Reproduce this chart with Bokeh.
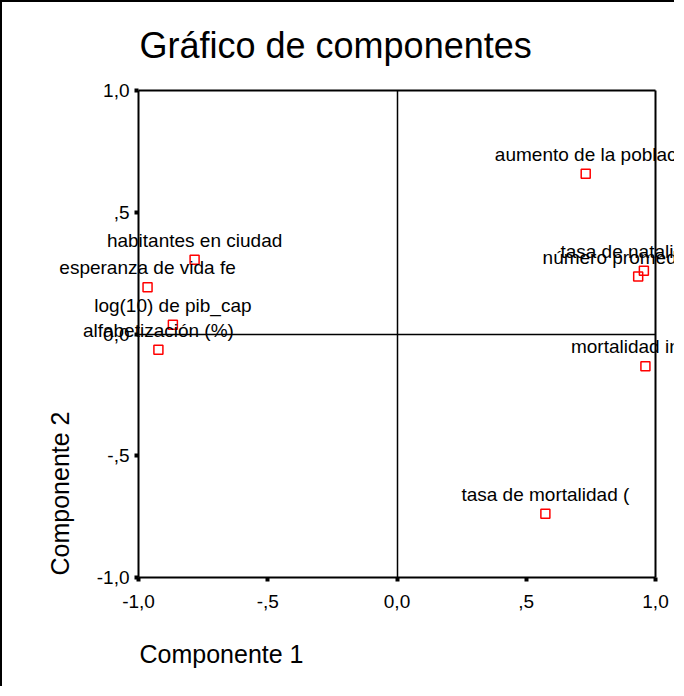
import math
from bokeh.plotting import figure
from bokeh.models import (Range1d, FixedTicker, ColumnDataSource, LabelSet, Label, Title,
                          LinearAxis)
from bokeh.core.properties import value
from bokeh.embed import file_html
from bokeh.resources import INLINE

# ---- data ----
names = ["aumento de la poblac", "tasa de natalidad (p", "número promedio de h",
         "mortalidad infantil", "tasa de mortalidad (", "habitantes en ciudad",
         "esperanza de vida fe", "log(10) de pib_cap", "alfabetización (%)"]
comp1 = [0.730, 0.955, 0.933, 0.961, 0.574, -0.783, -0.965, -0.867, -0.923]
comp2 = [0.658, 0.260, 0.236, -0.132, -0.738, 0.305, 0.192, 0.038, -0.065]
tick_values = [-1.0, -0.5, 0.0, 0.5, 1.0]
tick_labels = ["-1,0", "-,5", "0,0", ",5", "1,0"]

# ---- layout (pixels) ----
FONT = "Liberation Sans"
W, H = 674, 686
BOX_LEFT, BOX_RIGHT = 136, 653      # canvas px of x=-1 and x=1
BOX_TOP, BOX_BOTTOM = 88, 575       # canvas px of y=1 and y=-1
FRAME_TOP, FRAME_BOTTOM = 70, 622   # drawing area (covers tick labels)
upp = 2.0 / (BOX_RIGHT - BOX_LEFT)
vpp = 2.0 / (BOX_BOTTOM - BOX_TOP)
x_start = -1 - BOX_LEFT * upp
x_end = 1 + (W - BOX_RIGHT) * upp
y_end = 1 + (BOX_TOP - FRAME_TOP) * vpp
y_start = -1 - (FRAME_BOTTOM - BOX_BOTTOM) * vpp

p = figure(width=W, height=H, x_range=Range1d(x_start, x_end), y_range=Range1d(y_start, y_end),
           output_backend="svg", toolbar_location=None,
           min_border_left=0, min_border_right=0,
           min_border_top=FRAME_TOP, min_border_bottom=H - FRAME_BOTTOM)
p.styles = {"border-left": "2px solid black", "border-top": "2px solid black"}
p.grid.visible = False
p.outline_line_color = None
p.background_fill_color = "white"
p.border_fill_color = "white"

p.title.text = "Gráfico de componentes"
p.title.text_font = FONT
p.title.text_font_size = "36px"
p.title.text_font_style = "normal"
p.title.text_color = "black"
p.title.align = "left"
p.title.offset = BOX_LEFT + 1
p.title.standoff = 14


def style_axis(ax, ticks=True):
    ax.bounds = (-1, 1)
    ax.minor_tick_line_color = None
    ax.axis_line_color = "black"
    ax.axis_line_width = 2
    if ticks:
        ax.ticker = FixedTicker(ticks=tick_values)
        ax.major_label_overrides = {v: l for v, l in zip(tick_values, tick_labels)}
        ax.major_tick_in = 0
        ax.major_tick_out = 4
        ax.major_tick_line_width = 4
        ax.major_tick_line_color = "black"
        ax.major_label_text_font = FONT
        ax.major_label_text_font_size = "19px"
        ax.major_label_text_color = "black"
        ax.major_label_standoff = 5
    else:
        ax.ticker = FixedTicker(ticks=[])
        ax.major_tick_line_color = None
        ax.major_label_text_font_size = "0px"


xa = p.xaxis[0]
style_axis(xa)
xa.fixed_location = -1
xa.major_label_standoff = 13
ya = p.yaxis[0]
style_axis(ya)
ya.fixed_location = -1

# box top / right edges and zero lines
top_ax = LinearAxis(fixed_location=1)
style_axis(top_ax, ticks=False)
p.add_layout(top_ax, "above")
right_ax = LinearAxis(fixed_location=1)
style_axis(right_ax, ticks=False)
p.add_layout(right_ax, "right")
zx = LinearAxis(fixed_location=0)
style_axis(zx, ticks=False)
zx.axis_line_width = 1.5
p.add_layout(zx, "below")
zy = LinearAxis(fixed_location=0)
style_axis(zy, ticks=False)
zy.axis_line_width = 1.5
p.add_layout(zy, "left")

p.add_layout(Title(text="Componente 1", align="left", text_font=FONT, text_font_size="25px",
                   text_font_style="normal", text_color="black", standoff=27,
                   offset=BOX_LEFT + 1), "below")
p.add_layout(Label(x=-1, y=-1, x_offset=-79, y_offset=2, text="Componente 2", angle=math.pi / 2,
                   text_align="left", text_baseline="middle", text_font=FONT,
                   text_font_size="25px", text_color="black"))

src = ColumnDataSource(dict(x=comp1, y=comp2, name=names))
p.scatter("x", "y", source=src, marker="square", size=9, fill_color=None,
          line_color="#ff0000", line_width=1.5)
p.add_layout(LabelSet(x="x", y="y", text="name", source=src, text_align="center",
                      text_baseline="alphabetic", y_offset=13, text_font=value(FONT),
                      text_font_size=value("19px"), text_color="black"))

open("out.html", "w").write(file_html(p, INLINE))
